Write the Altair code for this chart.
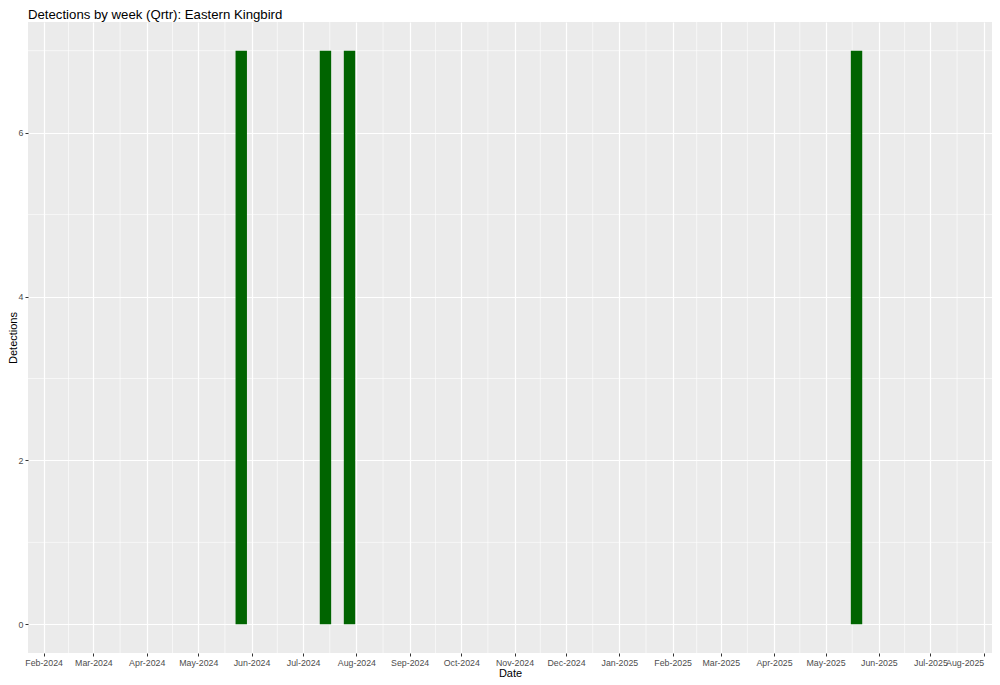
import altair as alt
import pandas as pd

# ---- data ----
title_text = "Detections by week (Qrtr): Eastern Kingbird"
weeks = ["2024-05-26", "2024-07-14", "2024-07-28", "2025-05-19"]
detections = [7, 7, 7, 7]

month_breaks = ["2024-02-01", "2024-03-01", "2024-04-01", "2024-05-01", "2024-06-01",
                "2024-07-01", "2024-08-01", "2024-09-01", "2024-10-01", "2024-11-01",
                "2024-12-01", "2025-01-01", "2025-02-01", "2025-03-01", "2025-04-01",
                "2025-05-01", "2025-06-01", "2025-07-01", "2025-08-01"]
y_major = [0, 2, 4, 6]
y_minor = [1, 3, 5, 7]
x_domain = ["2024-01-25T20:00:00", "2025-08-02T22:00:00"]
y_domain = [-0.35, 7.35]

FONT = "Liberation Sans"
W, H = 964, 631

bars_df = pd.DataFrame({"week": [w + "T00:00:00" for w in weeks], "n": detections})
mb = pd.to_datetime(month_breaks)
minor_x = [(mb[i] + (mb[i + 1] - mb[i]) / 2).strftime("%Y-%m-%dT%H:%M:%S") for i in range(len(mb) - 1)]
minor_x_df = pd.DataFrame({"d": minor_x})
minor_y_df = pd.DataFrame({"v": y_minor})
title_df = pd.DataFrame({"t": [title_text]})
last_break = pd.Timestamp(month_breaks[-1])


def dt(s):
    t = pd.Timestamp(s)
    return alt.DateTime(year=t.year, month=t.month, date=t.day, hours=t.hour, minutes=t.minute)


x_scale = alt.Scale(domain=[dt(x_domain[0]), dt(x_domain[1])])
y_scale = alt.Scale(domain=y_domain, nice=False, zero=False)

last_test = f"year(datum.value) == {last_break.year} && month(datum.value) == {last_break.month - 1}"

x_axis = alt.Axis(
    values=[dt(m) for m in month_breaks], format="%b-%Y", title="Date",
    labelFont=FONT, labelFontSize=8.8, labelColor="#4D4D4D", labelFlush=False,
    labelAlign={"condition": {"test": last_test, "value": "right"}, "value": "center"},
    labelOverlap=False, labelPadding=2,
    tickColor="#333333", tickSize=3, tickWidth=1,
    grid=True, gridColor="white", gridWidth=1.2,
    domain=False, titleFont=FONT, titleFontSize=11, titleFontWeight="normal",
    titleColor="black", titleY=20, titleBaseline="middle",
)
y_axis = alt.Axis(
    values=y_major, format="d", title="Detections",
    labelFont=FONT, labelFontSize=8.8, labelColor="#4D4D4D", labelPadding=2,
    tickColor="#333333", tickSize=3, tickWidth=1,
    grid=True, gridColor="white", gridWidth=1.2,
    domain=False, titleFont=FONT, titleFontSize=11, titleFontWeight="normal",
    titleColor="black", titleX=-14.5, titleY=H / 2, titleAngle=-90,
    titleBaseline="middle", titleAlign="center",
)

minor_x_layer = alt.Chart(minor_x_df).mark_rule(color="white", strokeWidth=0.6).encode(
    x=alt.X("d:T", scale=x_scale, axis=x_axis)
)
minor_y_layer = alt.Chart(minor_y_df).mark_rule(color="white", strokeWidth=0.6).encode(
    y=alt.Y("v:Q", scale=y_scale, axis=y_axis)
)
bars = alt.Chart(bars_df).mark_bar(color="#006400", size=11.4).encode(
    x=alt.X("week:T", scale=x_scale, axis=x_axis),
    y=alt.Y("n:Q", scale=y_scale, axis=y_axis),
)
title_layer = alt.Chart(title_df).mark_text(
    align="left", baseline="alphabetic", font=FONT, fontSize=13.2, color="black"
).encode(x=alt.value(0), y=alt.value(-3.2), text="t:N")

chart = alt.layer(minor_x_layer, minor_y_layer, bars, title_layer).properties(
    width=W, height=H,
    background="white",
    autosize=alt.AutoSizeParams(type="none"),
    padding={"left": 20, "top": 14, "right": 0, "bottom": 24},
).configure_view(fill="#EBEBEB", strokeWidth=0)

chart.save("out.html", embed_options={"renderer": "svg", "actions": False})
